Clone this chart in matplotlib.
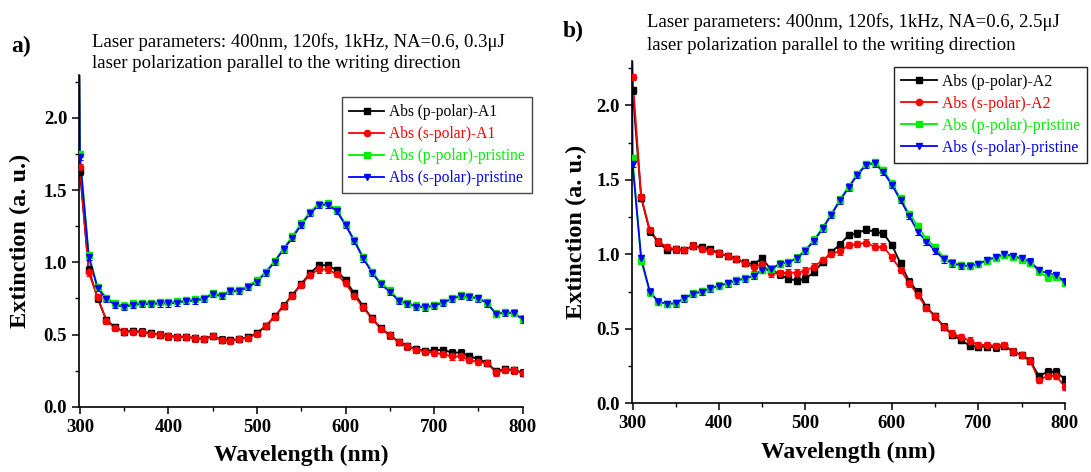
import matplotlib
matplotlib.use("Agg")
import matplotlib.pyplot as plt
from matplotlib.lines import Line2D
from matplotlib.ticker import MultipleLocator

plt.rcParams['font.family'] = ['Liberation Serif', 'DejaVu Serif']

# wavelength grid (nm) and the first sample just left of 300 nm (off-scale spike)
wavelength = list(range(300, 810, 10))
edge_wl = 299

# ---- panel a) : 0.3 uJ ----
a_p_polar = [1.63, 0.95, 0.75, 0.60, 0.55, 0.52, 0.525, 0.52, 0.51, 0.50,
             0.49, 0.485, 0.485, 0.475, 0.47, 0.49, 0.465, 0.46, 0.47, 0.48,
             0.51, 0.56, 0.625, 0.70, 0.775, 0.85, 0.925, 0.98, 0.98, 0.945,
             0.875, 0.785, 0.695, 0.612, 0.543, 0.497, 0.45, 0.42, 0.397, 0.388,
             0.39, 0.395, 0.375, 0.375, 0.35, 0.33, 0.305, 0.245, 0.26, 0.255,
             0.237]
a_s_polar = [1.66, 0.93, 0.76, 0.595, 0.545, 0.52, 0.52, 0.515, 0.505, 0.50,
             0.487, 0.483, 0.483, 0.473, 0.469, 0.488, 0.46, 0.458, 0.468, 0.477,
             0.507, 0.558, 0.622, 0.697, 0.77, 0.845, 0.915, 0.951, 0.951, 0.917,
             0.855, 0.767, 0.688, 0.608, 0.54, 0.494, 0.448, 0.418, 0.395, 0.382,
             0.372, 0.365, 0.348, 0.348, 0.322, 0.31, 0.302, 0.238, 0.255, 0.252,
             0.233]
a_p_pristine = [1.75, 1.05, 0.83, 0.755, 0.715, 0.70, 0.715, 0.72, 0.72, 0.725,
                0.725, 0.73, 0.74, 0.745, 0.755, 0.785, 0.775, 0.805, 0.81, 0.835,
                0.875, 0.935, 1.01, 1.095, 1.18, 1.27, 1.35, 1.405, 1.41, 1.365,
                1.265, 1.155, 1.035, 0.935, 0.855, 0.805, 0.74, 0.717, 0.70, 0.695,
                0.703, 0.727, 0.752, 0.772, 0.765, 0.755, 0.722, 0.645, 0.655, 0.652,
                0.61]
a_s_pristine = [1.73, 1.04, 0.82, 0.745, 0.705, 0.69, 0.705, 0.71, 0.71, 0.715,
                0.715, 0.72, 0.73, 0.735, 0.745, 0.78, 0.765, 0.80, 0.80, 0.827,
                0.866, 0.928, 1.004, 1.09, 1.17, 1.26, 1.34, 1.395, 1.40, 1.355,
                1.258, 1.147, 1.027, 0.928, 0.848, 0.797, 0.734, 0.711, 0.693, 0.688,
                0.697, 0.72, 0.744, 0.767, 0.758, 0.75, 0.716, 0.642, 0.651, 0.647,
                0.605]
a_edge = [2.6, 2.6, 2.6, 2.6]

# ---- panel b) : 2.5 uJ ----
b_p_polar = [2.10, 1.38, 1.155, 1.08, 1.03, 1.034, 1.029, 1.058, 1.047, 1.035,
             1.007, 0.989, 0.969, 0.944, 0.935, 0.973, 0.899, 0.866, 0.837, 0.823,
             0.837, 0.88, 0.95, 1.016, 1.066, 1.129, 1.141, 1.167, 1.152, 1.141,
             1.062, 0.939, 0.817, 0.749, 0.644, 0.586, 0.514, 0.458, 0.425, 0.385,
             0.38, 0.38, 0.376, 0.385, 0.347, 0.324, 0.286, 0.183, 0.212, 0.212,
             0.161]
b_s_polar = [2.19, 1.383, 1.163, 1.085, 1.047, 1.034, 1.029, 1.058, 1.038, 1.025,
             1.007, 0.989, 0.969, 0.944, 0.913, 0.935, 0.872, 0.872, 0.877, 0.877,
             0.89, 0.917, 0.962, 1.005, 1.02, 1.062, 1.069, 1.078, 1.051, 1.051,
             0.98, 0.895, 0.806, 0.727, 0.64, 0.583, 0.512, 0.468, 0.443, 0.421,
             0.392, 0.392, 0.385, 0.392, 0.347, 0.324, 0.286, 0.156, 0.183, 0.183,
             0.112]
b_p_pristine = [1.644, 0.955, 0.745, 0.68, 0.668, 0.673, 0.708, 0.738, 0.752, 0.775,
                0.79, 0.808, 0.826, 0.84, 0.858, 0.898, 0.902, 0.938, 0.948, 0.977,
                1.03, 1.098, 1.18, 1.272, 1.368, 1.455, 1.54, 1.605, 1.618, 1.565,
                1.475, 1.375, 1.27, 1.19, 1.1, 1.05, 0.975, 0.945, 0.928, 0.925,
                0.935, 0.958, 0.975, 0.995, 0.985, 0.965, 0.945, 0.885, 0.845, 0.85,
                0.81]
b_s_pristine = [1.606, 0.973, 0.749, 0.682, 0.667, 0.671, 0.705, 0.734, 0.749, 0.772,
                0.787, 0.805, 0.823, 0.837, 0.855, 0.895, 0.899, 0.935, 0.944, 0.973,
                1.025, 1.092, 1.174, 1.266, 1.362, 1.449, 1.532, 1.599, 1.611, 1.554,
                1.465, 1.364, 1.257, 1.152, 1.085, 1.024, 0.966, 0.939, 0.924, 0.921,
                0.935, 0.962, 0.98, 1.002, 0.989, 0.973, 0.951, 0.895, 0.872, 0.861,
                0.817]
b_edge = [2.6, 2.6, 2.6, 2.6]

a_labels = ["Abs (p-polar)-A1", "Abs (s-polar)-A1",
            "Abs (p-polar)-pristine", "Abs (s-polar)-pristine"]
b_labels = ["Abs (p-polar)-A2", "Abs (s-polar)-A2",
            "Abs (p-polar)-pristine", "Abs (s-polar)-pristine"]
colors = ["#000000", "#ff0000", "#00ee00", "#0000ff"]
markers = ["s", "o", "s", "v"]
err = 0.022


def draw_panel(ax, series, edge, ylabel_x):
    for vals, e, color, mk in zip(series, edge, colors, markers):
        ax.plot([edge_wl] + wavelength, [e] + vals, color=color, lw=1.3, zorder=2)
        ax.errorbar(wavelength, vals, yerr=err, fmt=mk, color=color, ms=4.5,
                    capsize=2.4, elinewidth=0.8, capthick=0.8, zorder=3)
    ax.set_xlim(299, 800)
    ax.set_ylim(0, 2.3)
    ax.xaxis.set_major_locator(MultipleLocator(100))
    ax.xaxis.set_minor_locator(MultipleLocator(50))
    ax.yaxis.set_major_locator(MultipleLocator(0.5))
    ax.yaxis.set_minor_locator(MultipleLocator(0.25))
    ax.yaxis.set_major_formatter(matplotlib.ticker.FormatStrFormatter('%.1f'))
    ax.spines['top'].set_visible(False)
    ax.spines['right'].set_visible(False)
    for s in ('left', 'bottom'):
        ax.spines[s].set_linewidth(1.2)
    ax.tick_params(which='major', direction='out', length=5, width=1.1,
                   labelsize=13.5)
    ax.tick_params(which='minor', direction='out', length=3, width=1.0)
    for lab in ax.get_xticklabels() + ax.get_yticklabels():
        lab.set_fontweight('bold')
    ax.set_xlabel("Wavelength (nm)", fontsize=17, fontweight='bold', labelpad=7)
    ax.set_ylabel("Extinction (a. u.)", fontsize=17.5, fontweight='bold')
    ax.yaxis.set_label_coords(ylabel_x, 0.5)

    return [Line2D([], [], color=c, marker=m, ms=4.5, lw=1.3)
            for c, m in zip(colors, markers)]


fig = plt.figure(figsize=(10.91, 4.72), dpi=100)
ax_a = fig.add_axes([0.0724, 0.1383, 0.4066, 0.7036])
ax_b = fig.add_axes([0.579, 0.1455, 0.397, 0.726])

h_a = draw_panel(ax_a, [a_p_polar, a_s_polar, a_p_pristine, a_s_pristine],
                 a_edge, -0.108)
h_b = draw_panel(ax_b, [b_p_polar, b_s_polar, b_p_pristine, b_s_pristine],
                 b_edge, -0.103)

leg_kw = dict(loc='upper left', borderaxespad=0, frameon=True, fancybox=False,
              handlelength=2.3, handletextpad=0.3, labelspacing=0.38,
              borderpad=0.45, labelcolor='linecolor', framealpha=1)
leg_a = ax_a.legend(h_a, a_labels, bbox_to_anchor=(0.3132, 0.7939),
                    bbox_transform=fig.transFigure, fontsize=11.2,
                    edgecolor='#444444', **leg_kw)
leg_a.get_frame().set_linewidth(1.0)
leg_b = ax_b.legend(h_b, b_labels, bbox_to_anchor=(0.8194, 0.8587),
                    bbox_transform=fig.transFigure, fontsize=11.3,
                    edgecolor='#222222', **leg_kw)
leg_b.get_frame().set_linewidth(1.0)

fig.text(11 / 1091, 1 - 52 / 472, "a)", fontsize=17, fontweight='bold', va='baseline')
fig.text(92 / 1091, 1 - 47 / 472, "Laser parameters: 400nm, 120fs, 1kHz, NA=0.6, 0.3μJ",
         fontsize=13.5, va='baseline')
fig.text(92 / 1091, 1 - 68 / 472, "laser polarization parallel to the writing direction",
         fontsize=13.5, va='baseline')

fig.text(563 / 1091, 1 - 37 / 472, "b)", fontsize=17, fontweight='bold', va='baseline')
fig.text(647 / 1091, 1 - 27 / 472, "Laser parameters: 400nm, 120fs, 1kHz, NA=0.6, 2.5μJ",
         fontsize=13.5, va='baseline')
fig.text(647 / 1091, 1 - 50 / 472, "laser polarization parallel to the writing direction",
         fontsize=13.5, va='baseline')

fig.savefig("out.png", dpi=100)
